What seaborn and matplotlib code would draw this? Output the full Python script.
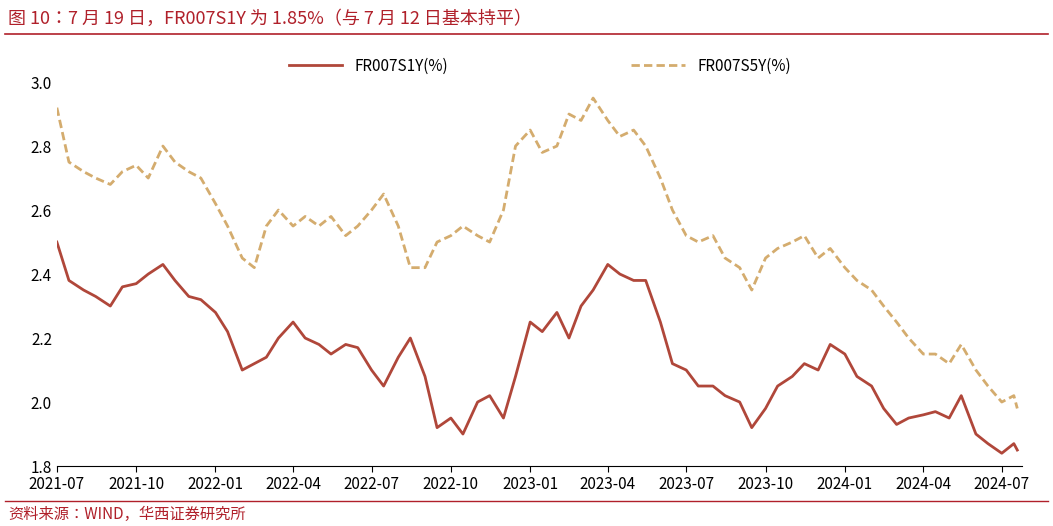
import matplotlib
matplotlib.use("Agg")
import matplotlib.pyplot as plt
import seaborn as sns
import pandas as pd

s1y = [2.50,2.38,2.35,2.33,2.30,2.36,2.37,2.40,2.43,2.38,2.33,2.32,2.28,2.22,2.10,2.12,2.14,2.20,2.25,2.20,2.18,2.15,
       2.18,2.17,2.10,2.05,2.14,2.20,2.08,1.92,1.95,1.90,2.00,2.02,1.95,2.08,2.25,2.22,2.28,2.20,2.30,2.35,2.43,2.40,
       2.38,2.38,2.25,2.12,2.10,2.05,2.05,2.02,2.00,1.92,1.98,2.05,2.08,2.12,2.10,2.18,2.15,2.08,2.05,1.98,1.93,1.95,
       1.96,1.97,1.95,2.02,1.90,1.87,1.84,1.87,1.85]
s5y = [2.92,2.75,2.72,2.70,2.68,2.72,2.74,2.70,2.80,2.75,2.72,2.70,2.62,2.55,2.45,2.42,2.55,2.60,2.55,2.58,2.55,2.58,
       2.52,2.55,2.60,2.65,2.55,2.42,2.42,2.50,2.52,2.55,2.52,2.50,2.60,2.80,2.85,2.78,2.80,2.90,2.88,2.95,2.88,2.83,
       2.85,2.80,2.70,2.60,2.52,2.50,2.52,2.45,2.42,2.35,2.45,2.48,2.50,2.52,2.45,2.48,2.42,2.38,2.35,2.30,2.25,2.20,
       2.15,2.15,2.12,2.18,2.10,2.05,2.00,2.02,1.98]
dates = list(pd.date_range("2021-07-01", periods=len(s1y) - 1, freq="SMS")) + [pd.Timestamp("2024-07-19")]
df = pd.DataFrame({"date": dates, "FR007S1Y(%)": s1y, "FR007S5Y(%)": s5y})

plt.rcParams["font.family"] = ["Noto Sans CJK SC", "Noto Sans CJK JP", "DejaVu Sans"]
fig = plt.figure(figsize=(10.53, 5.26), dpi=100)
ax = fig.add_axes([0.054, 0.114, 0.917, 0.73])
sns.lineplot(data=df, x="date", y="FR007S1Y(%)", ax=ax, color="#b0473a", lw=2.0, label="FR007S1Y(%)")
sns.lineplot(data=df, x="date", y="FR007S5Y(%)", ax=ax, color="#d4ac6e", lw=2.0, ls=(0, (3, 1.5)), label="FR007S5Y(%)")
ax.set_ylim(1.8, 3.0)
ax.set_yticks([1.8, 2.0, 2.2, 2.4, 2.6, 2.8, 3.0])
ax.set_yticklabels([f"{v:.1f}" for v in ax.get_yticks()])
ax.set_xlim(pd.Timestamp("2021-07-01"), pd.Timestamp("2024-07-25"))
xt = pd.date_range("2021-07-01", "2024-07-01", freq="3MS")
ax.set_xticks(xt)
ax.set_xticklabels([d.strftime("%Y-%m") for d in xt])
ax.set_xlabel(""); ax.set_ylabel("")
ax.tick_params(labelsize=11, length=4, direction="out")
for s in ["top", "right", "left"]:
    ax.spines[s].set_visible(False)
ax.tick_params(axis="y", length=0)
ax.legend(loc="upper center", bbox_to_anchor=(0.5, 1.1), ncol=2, frameon=False, fontsize=11, columnspacing=12, handlelength=3.5)
fig.text(0.008, 0.965, "图 10：7 月 19 日，FR007S1Y 为 1.85%（与 7 月 12 日基本持平）", color="#b0202a", fontsize=13, va="center")
fig.add_artist(plt.Line2D([0.005, 0.995], [0.935, 0.935], color="#b0202a", lw=1.2))
fig.add_artist(plt.Line2D([0.005, 0.995], [0.048, 0.048], color="#b0202a", lw=1.0))
fig.text(0.008, 0.022, "资料来源：WIND，华西证券研究所", color="#b0202a", fontsize=11, va="center")
fig.savefig("out.png", dpi=100)
